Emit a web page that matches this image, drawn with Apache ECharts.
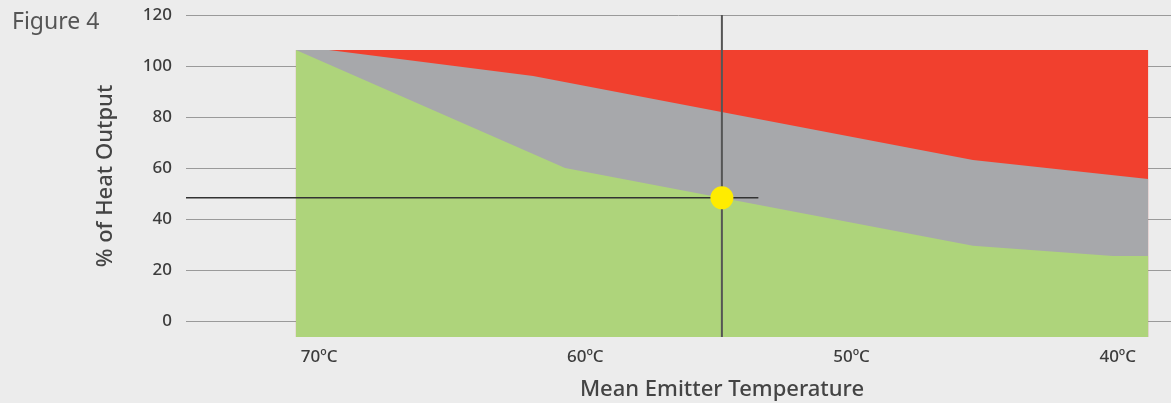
<!DOCTYPE html>
<html>
<head>
<meta charset="utf-8">
<script src="https://cdn.jsdelivr.net/npm/echarts@6/dist/echarts.min.js"></script>
<style>
  html, body { margin: 0; padding: 0; background: #ececec; }
  #chart { width: 1171px; height: 403px; }
</style>
</head>
<body>
<div id="chart"></div>
<script>
// Temperature ticks (°C) and y ticks (%)
const xTickValues = [70, 60, 50, 40];
const yTickValues = [0, 20, 40, 60, 80, 100, 120];

// Upper boundary of each band: [mean emitter temperature °C, % heat output]
const redTop = [[70.87, 106.3], [38.86, 106.3]];
const greyTop = [[70.87, 106.3], [69.63, 106.3], [61.96, 96.1], [45.44, 63.1], [38.86, 55.7]];
const greenTop = [[70.87, 106.3], [60.76, 60.0], [45.44, 29.5], [40.18, 25.5], [38.86, 25.5]];

// Operating point (55 °C, ~48 %)
const pointTemp = 54.87;
const pointOutput = 48.3;
const verticalGuide = [[pointTemp, -6.3], [pointTemp, 120]];
const horizontalGuide = [[75, pointOutput], [53.5, pointOutput]];
const operatingPoint = [[pointTemp, pointOutput]];

const FONT = 'Noto Sans';
const chart = echarts.init(document.getElementById('chart'), null, { renderer: 'canvas' });

function band(data, color, z) {
  return {
    type: 'line', data: data, symbol: 'none', z: z,
    lineStyle: { width: 0 },
    areaStyle: { color: color, opacity: 1, origin: 'start' },
    silent: true, animation: false
  };
}

chart.setOption({
  backgroundColor: '#ececec',
  animation: false,
  title: {
    text: 'Figure 4', left: 7, top: 6,
    textStyle: { fontFamily: FONT, fontSize: 23, fontWeight: 'normal', color: '#555' }
  },
  grid: { left: 186, right: 0, top: 15, bottom: 66, containLabel: false, outerBoundsMode: 'none' },
  xAxis: {
    type: 'value', min: 38, max: 75, inverse: true,
    axisLine: { show: false },
    axisTick: { show: false, customValues: xTickValues },
    splitLine: { show: false },
    axisLabel: {
      customValues: xTickValues, margin: 12,
      formatter: v => v + 'ºC',
      fontFamily: FONT, fontSize: 17, fontWeight: 500, color: '#3c3c3c'
    },
    name: 'Mean Emitter Temperature', nameLocation: 'middle', nameGap: 42,
    nameTextStyle: { fontFamily: FONT, fontSize: 22, fontWeight: 500, color: '#444', padding: [0, 0, 0, 87] }
  },
  yAxis: {
    type: 'value', min: -6.3, max: 120,
    axisLine: { show: false },
    axisTick: { show: false, customValues: yTickValues },
    axisLabel: { customValues: yTickValues, margin: 14, fontFamily: FONT, fontSize: 17, fontWeight: 500, color: '#3c3c3c' },
    splitLine: { show: true, lineStyle: { color: '#9a9a9a', width: 1 } },
    name: '% of Heat Output', nameLocation: 'middle', nameGap: 69,
    nameTextStyle: { fontFamily: FONT, fontSize: 22, fontWeight: 500, color: '#444' }
  },
  series: [
    band(redTop, '#f1402e', 2),
    band(greyTop, '#a7a8ab', 3),
    band(greenTop, '#aed47b', 4),
    {
      type: 'line', data: verticalGuide, symbol: 'none', z: 5, silent: true,
      lineStyle: { color: '#555', width: 2 }
    },
    {
      type: 'line', data: horizontalGuide, symbol: 'none', z: 5, silent: true,
      lineStyle: { color: '#333', width: 1.5 }
    },
    {
      type: 'scatter', data: operatingPoint, symbolSize: 23, z: 6, silent: true,
      itemStyle: { color: '#ffec00', opacity: 1 }
    }
  ]
});
</script>
</body>
</html>
